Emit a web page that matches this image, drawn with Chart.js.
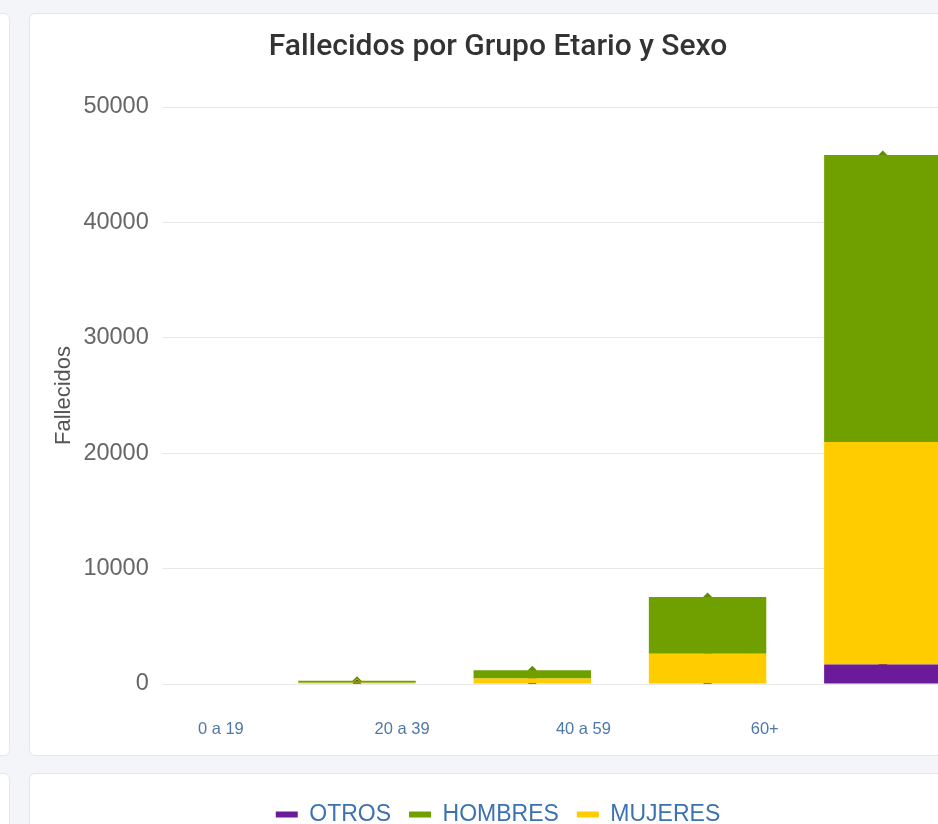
<!DOCTYPE html>
<html>
<head>
<meta charset="utf-8">
<script src="https://cdn.jsdelivr.net/npm/chart.js@4.4.1/dist/chart.umd.min.js"></script>
<style>
  html, body { margin: 0; padding: 0; }
  body {
    width: 938px; height: 824px; overflow: hidden;
    background: #f3f5f8; position: relative;
    font-family: "Liberation Sans", Arial, sans-serif;
  }
  .card {
    position: absolute; background: #fff;
    border: 1px solid #e4e7ec; border-radius: 6px;
    box-sizing: border-box;
  }
  #chartBox { position: absolute; left: 30px; top: 13px; width: 934px; height: 823px; }
</style>
</head>
<body>
<div class="card" style="left:-20px; top:13px; width:30px; height:743px;"></div>
<div class="card" style="left:29px; top:13px; width:940px; height:743px;"></div>
<div class="card" style="left:-20px; top:773px; width:30px; height:120px;"></div>
<div class="card" style="left:29px; top:773px; width:940px; height:120px;"></div>
<div id="chartBox"><canvas id="fallecidosChart"></canvas></div>

<script>
// grupos etarios y fallecidos por sexo
const categories = ["0 a 19", "20 a 39", "40 a 59", "60+"];
const otros   = [0, 0, 0, 1700];
const mujeres = [110, 480, 2620, 19270];
const hombres = [170, 720, 4910, 24870];
const yTicks = [0, 10000, 20000, 30000, 40000, 50000];
const legendOrder = ["OTROS", "HOMBRES", "MUJERES"];

// stacking order: bottom to top
const series = [
  { label: "OTROS",   values: otros,   color: "#6b1b9a", marker: "#4e1470" },
  { label: "MUJERES", values: mujeres, color: "#ffcc00", marker: "#e0b000" },
  { label: "HOMBRES", values: hombres, color: "#6fa000", marker: "#5f8c00" }
];

const toPoints = (arr) => arr.map((v, i) => ({ x: i, y: v }));
const categoryTicks = (scale) => { scale.ticks = categories.map((c, i) => ({ value: i })); };

const barSets = series.map(s => ({
  type: "bar", label: s.label, data: toPoints(s.values),
  backgroundColor: s.color, borderWidth: 0, order: 0
}));
// small markers at the top of each segment, drawn behind the bars
const markerSets = series.map(s => ({
  type: "line", label: s.label + "_pt", data: toPoints(s.values),
  showLine: false, pointStyle: "rectRot", pointRadius: 4.5,
  pointBackgroundColor: s.marker, pointBorderWidth: 0, order: 1
}));

const ctx = document.getElementById("fallecidosChart");
new Chart(ctx, {
  type: "bar",
  data: { datasets: barSets.concat(markerSets) },
  options: {
    responsive: true,
    maintainAspectRatio: false,
    animation: false,
    layout: { padding: { left: 12, right: 10, top: 16, bottom: 0 } },
    datasets: { bar: { categoryPercentage: 1, barPercentage: 0.67 } },
    scales: {
      x: {
        type: "linear", stacked: true, display: false, offset: false,
        bounds: "data", min: -1.114, max: 3.406,
        afterBuildTicks: categoryTicks
      },
      xl: {
        type: "linear", position: "bottom", bounds: "data", offset: false,
        min: -0.326, max: 4.044,
        grid: { display: false }, border: { display: false },
        afterBuildTicks: categoryTicks,
        ticks: {
          autoSkip: false, maxRotation: 0,
          padding: 28, color: "#4f78a8",
          font: { family: "'Liberation Sans', Arial", size: 16.5 },
          callback: (v) => categories[v] ?? ""
        },
        afterFit: (scale) => { scale.height = 101; }
      },
      y: {
        stacked: true, min: 0, max: 50000,
        grid: { color: "#e8e8e8", drawTicks: false },
        border: { display: false },
        afterBuildTicks: (scale) => { scale.ticks = yTicks.map(v => ({ value: v })); },
        afterFit: (scale) => { scale.width -= 14; },
        ticks: {
          padding: 13, color: "#666",
          font: { family: "'Liberation Sans', Arial", size: 23.5 },
          callback: (v) => String(v)
        },
        title: {
          display: true, text: "Fallecidos", color: "#555",
          padding: { top: 9, bottom: 7 },
          font: { family: "'Liberation Sans', Arial", size: 22 }
        }
      }
    },
    plugins: {
      title: {
        display: true, text: "Fallecidos por Grupo Etario y Sexo",
        color: "#333",
        padding: { top: 0, bottom: 42 },
        font: { family: "Roboto", size: 30, weight: "500" }
      },
      legend: {
        position: "bottom",
        labels: {
          boxWidth: 22, boxHeight: 6, padding: 18, color: "#3d72b0",
          font: { family: "'Liberation Sans', Arial", size: 23 },
          filter: (item) => legendOrder.includes(item.text),
          sort: (a, b) => legendOrder.indexOf(a.text) - legendOrder.indexOf(b.text)
        }
      },
      tooltip: { enabled: false }
    }
  }
});
</script>
</body>
</html>
